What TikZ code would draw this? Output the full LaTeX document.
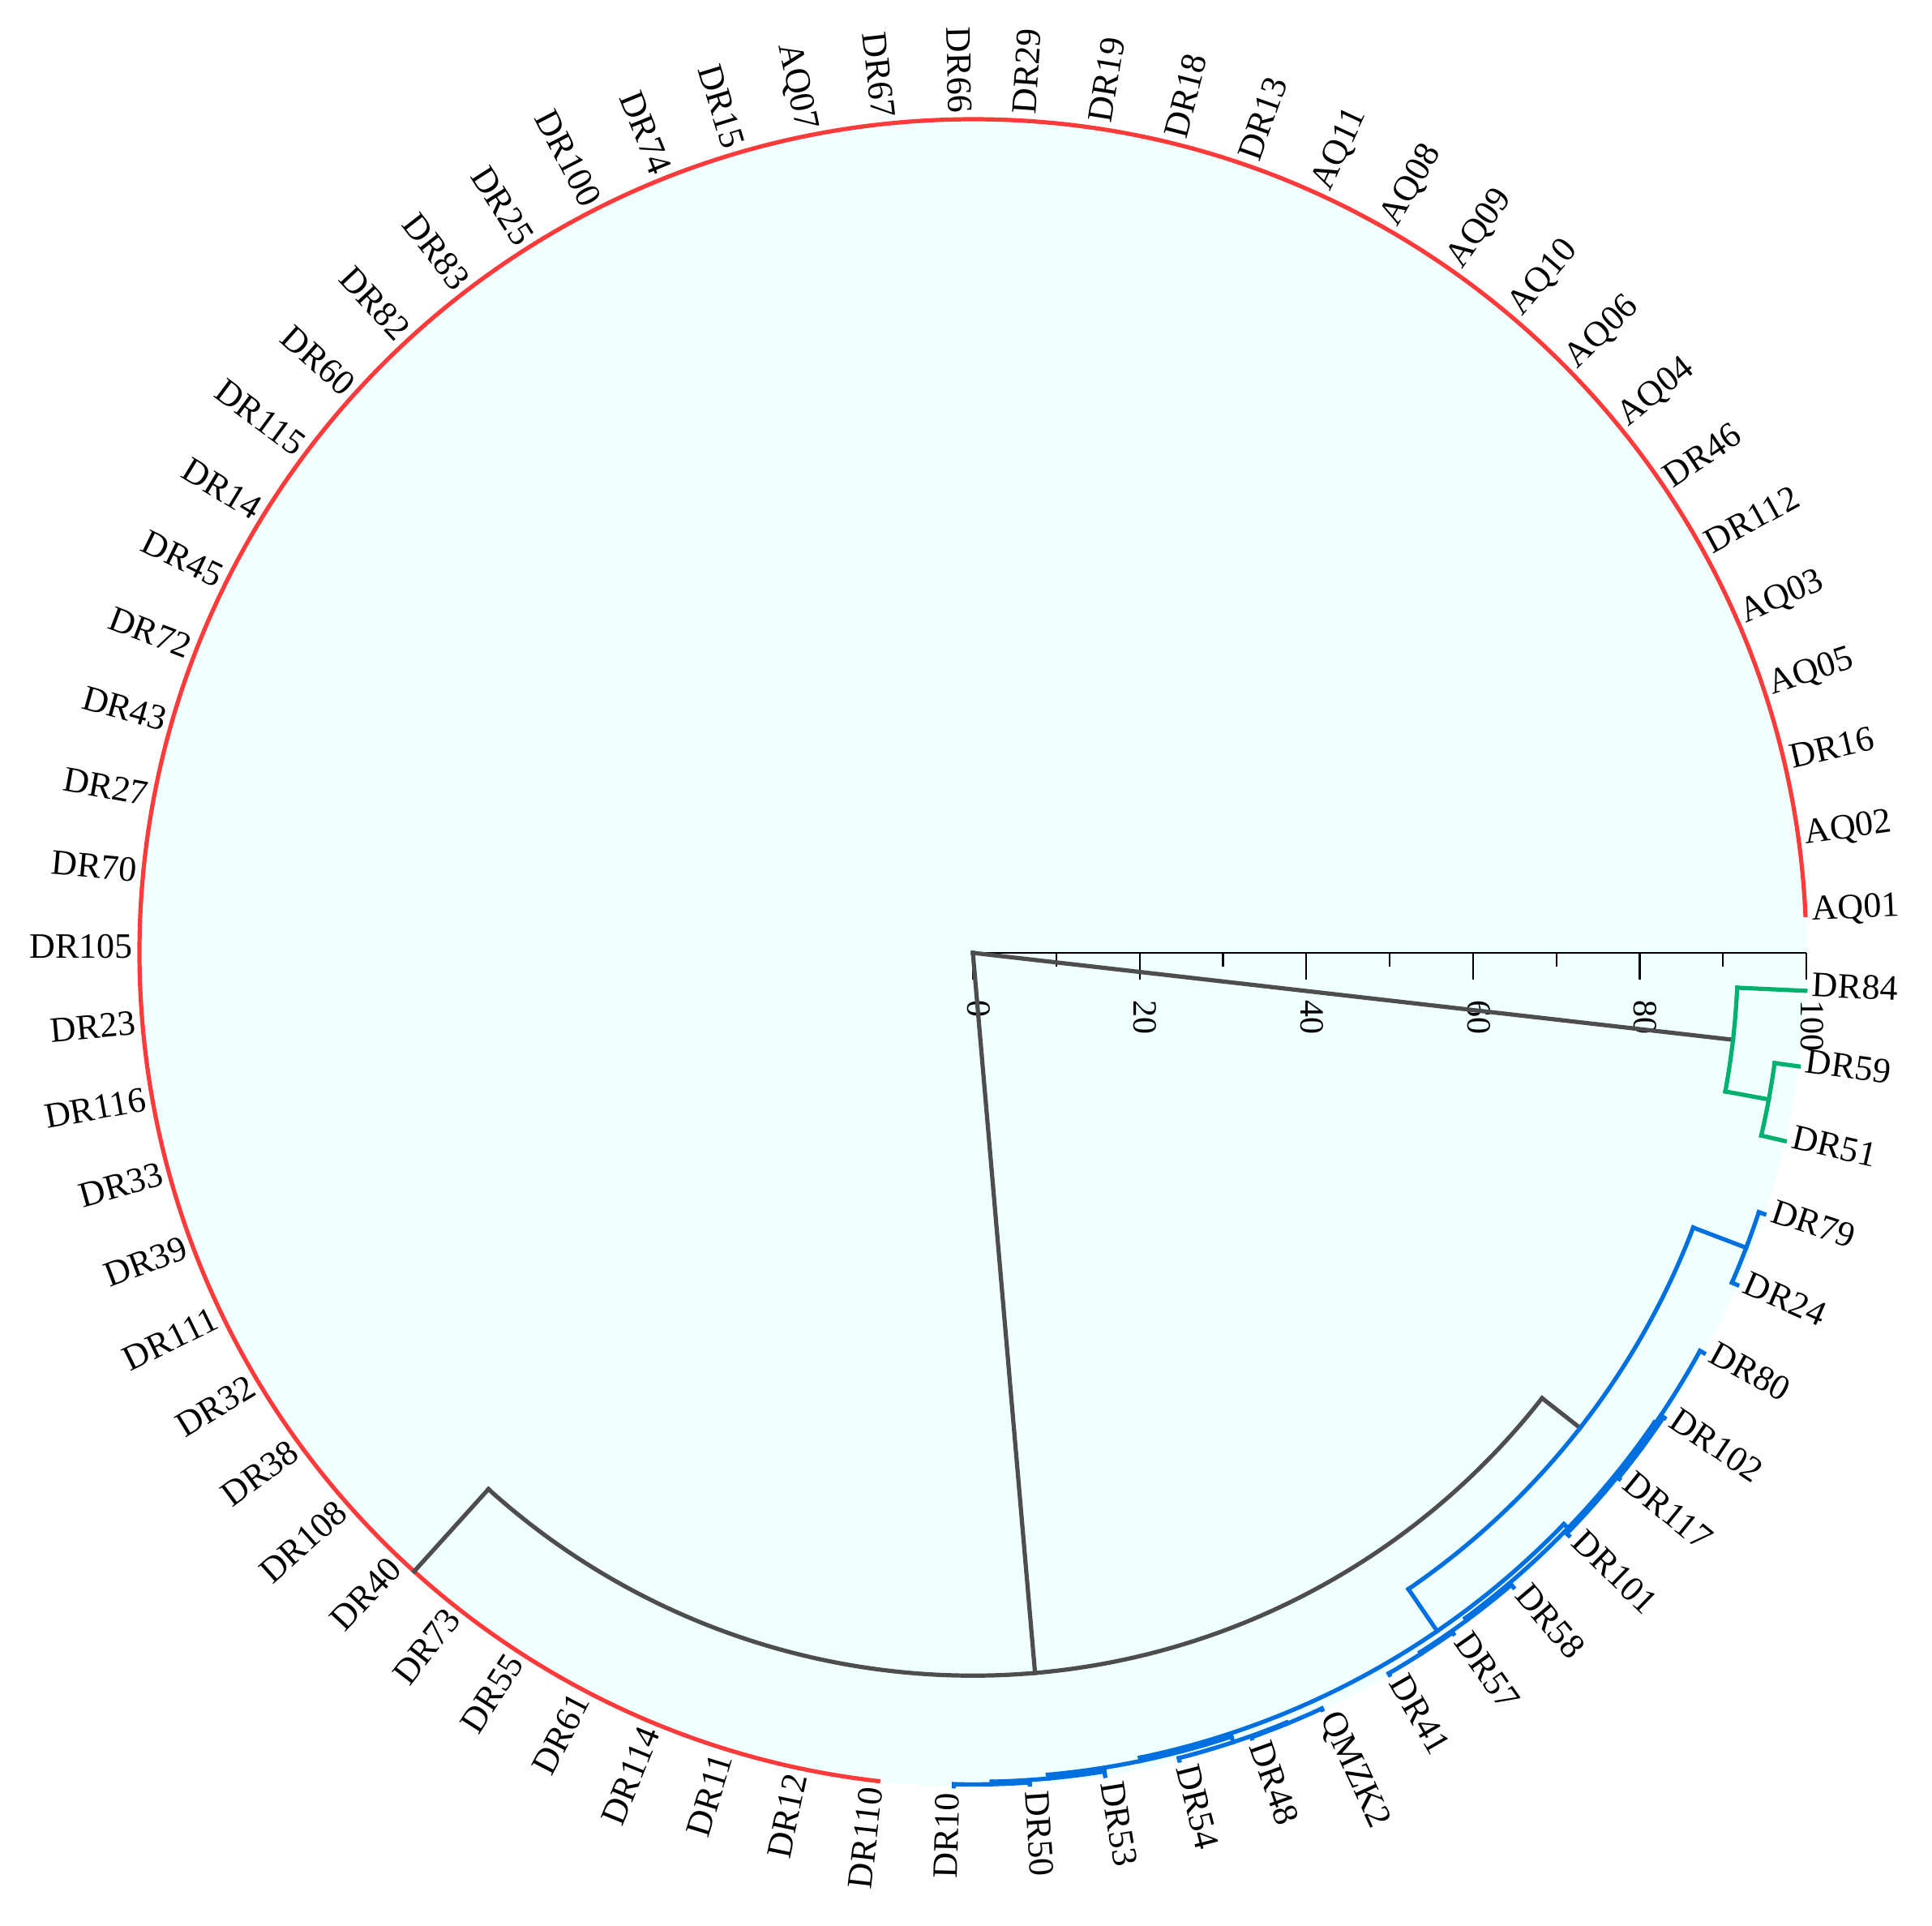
\documentclass[tikz,border=0pt]{standalone}
\usepackage{fontspec}
\setmainfont{Liberation Serif}
\definecolor{tred}{RGB}{255,58,58}
\definecolor{tgreen}{RGB}{0,176,110}
\definecolor{tblue}{RGB}{0,112,224}
\definecolor{tgray}{RGB}{77,77,77}
\definecolor{bgc}{RGB}{240,255,255}
% arc of a dendrogram node: style, radius (0-100), start angle, end angle
\newcommand\darc[4]{\draw[#1] (#3:{#2*5.14pt}) arc[start angle=#3,end angle=#4,radius={#2*5.14pt}];}
% radial branch: style, angle, r1, r2
\newcommand\drad[4]{\draw[#1] (#2:{#3*5.14pt}) -- (#2:{#4*5.14pt});}
\begin{document}
\begin{tikzpicture}[
  br/.style={line width=2.6pt, line cap=rect, line join=miter},
  rbr/.style={br, tred},
  gbr/.style={br, tgreen},
  bbr/.style={br, tblue},
  kbr/.style={br, tgray},
  axisline/.style={line width=1.1pt, black},
  lab/.style={inner sep=0pt, font=\fontsize{22}{26}\selectfont, text height=0.66em, text depth=0pt},
  ticklab/.style={inner sep=0pt, font=\fontsize{21}{25}\selectfont, text height=0.68em, text depth=0pt}
]
\useasboundingbox (-600pt,-599.5pt) rectangle (591.5pt,587.5pt);
\fill[bgc] (0,0) circle[radius=514pt];
\coordinate (root) at (0,0);
% scale axis
\coordinate (ax100) at (0:514pt);
\draw[axisline] (root) -- (ax100);
\foreach \k in {0,...,10} {
  \pgfmathtruncatemacro\ev{mod(\k,2)==0}
  \ifnum\ev=1
    \draw[axisline] (\k*51.4pt,0) -- (\k*51.4pt,-16.5pt);
    \pgfmathtruncatemacro\val{\k*10}
    \node[ticklab, anchor=west, rotate=-90] (T\k) at (\k*51.4pt,-29pt) {\val};
  \else
    \draw[axisline] (\k*51.4pt,0) -- (\k*51.4pt,-8.5pt);
  \fi
}
% red cluster
\darc{rbr}{100}{2.6087}{263.478}
% gray backbone
\coordinate (M) at (274.935:{86.7*5.14pt});
\coordinate (G) at (353.478:{91.8*5.14pt});
\draw[kbr] (root) -- (M);
\draw[kbr] (root) -- (G);
\darc{kbr}{86.7}{227.9}{321.97}
\drad{kbr}{227.9}{86.7}{100}
\drad{kbr}{321.97}{86.7}{92.5}
% green cluster
\darc{gbr}{91.8}{349.565}{357.391}
\drad{gbr}{357.391}{91.8}{100}
\drad{gbr}{349.565}{91.8}{97.1}
\darc{gbr}{97.1}{346.957}{352.174}
\drad{gbr}{346.957}{97.1}{100}
\drad{gbr}{352.174}{97.1}{100}
% blue cluster
\darc{bbr}{92.5}{304.4}{339.130}
\drad{bbr}{339.130}{92.5}{99.3}
\darc{bbr}{99.3}{336.522}{341.739}
\drad{bbr}{336.522}{99.3}{100}
\drad{bbr}{341.739}{99.3}{100}
\drad{bbr}{304.4}{92.5}{98.6}
\darc{bbr}{98.6}{281.74}{315.98}
% lower part
\drad{bbr}{281.74}{98.6}{99.0}
\darc{bbr}{99.0}{275.217}{288.26}
\drad{bbr}{288.26}{99.0}{99.7}
\darc{bbr}{99.7}{284.348}{292.174}
\drad{bbr}{284.348}{99.7}{100}
\drad{bbr}{292.174}{99.7}{99.85}
\darc{bbr}{99.85}{289.565}{294.783}
\drad{bbr}{289.565}{99.85}{100}
\drad{bbr}{294.783}{99.85}{100}
\drad{bbr}{275.217}{99.0}{99.45}
\darc{bbr}{99.45}{271.304}{279.130}
\drad{bbr}{279.130}{99.45}{100}
\drad{bbr}{271.304}{99.45}{99.75}
\darc{bbr}{99.75}{268.696}{273.913}
\drad{bbr}{268.696}{99.75}{100}
\drad{bbr}{273.913}{99.75}{100}
% upper part
\drad{bbr}{315.98}{98.6}{99.3}
\darc{bbr}{99.3}{306.52}{325.435}
\drad{bbr}{306.52}{99.3}{99.6}
\darc{bbr}{99.6}{302.61}{310.435}
\drad{bbr}{310.435}{99.6}{100}
\drad{bbr}{302.61}{99.6}{99.8}
\darc{bbr}{99.8}{300.000}{305.217}
\drad{bbr}{300.000}{99.8}{100}
\drad{bbr}{305.217}{99.8}{100}
\drad{bbr}{325.435}{99.3}{99.45}
\darc{bbr}{99.45}{319.565}{331.304}
\drad{bbr}{331.304}{99.45}{100}
\drad{bbr}{319.565}{99.45}{99.65}
\darc{bbr}{99.65}{315.652}{323.478}
\drad{bbr}{315.652}{99.65}{100}
\drad{bbr}{323.478}{99.65}{99.85}
\darc{bbr}{99.85}{320.870}{326.087}
\drad{bbr}{320.870}{99.85}{100}
\drad{bbr}{326.087}{99.85}{100}
% leaf labels
\foreach \n [count=\i from 0] in {AQ01,AQ02,DR16,AQ05,AQ03,DR112,DR46,AQ04,AQ06,AQ10,AQ09,AQ08,AQ11,DR13,DR18,DR19,DR29,DR66,DR67,AQ07,DR15,DR74,DR100,DR25,DR83,DR82,DR60,DR115,DR14,DR45,DR72,DR43,DR27,DR70,DR105,DR23,DR116,DR33,DR39,DR111,DR32,DR38,DR108,DR40,DR73,DR55,DR61,DR114,DR11,DR12,DR110,DR10,DR50,DR53,DR54,DR48,QMZK2,DR41,DR57,DR58,DR101,DR117,DR102,DR80,DR24,DR79,DR51,DR59,DR84} {
  \pgfmathsetmacro\a{2.6087+\i*5.217391}
  \pgfmathtruncatemacro\rt{(\a<90)||(\a>270)}
  \ifnum\rt=1
    \node[lab, anchor=west, rotate=\a] (L\i) at (\a:518pt) {\n};
  \else
    \pgfmathsetmacro\b{\a-180}
    \node[lab, anchor=east, rotate=\b] (L\i) at (\a:518pt) {\n};
  \fi
}
\end{tikzpicture}
\end{document}
